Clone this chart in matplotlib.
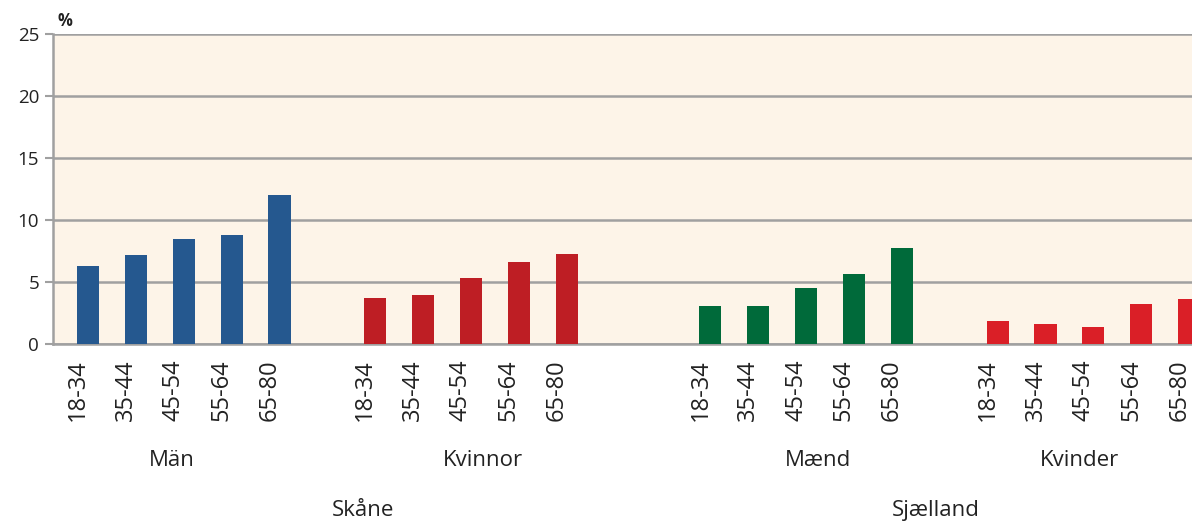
import numpy as np
import matplotlib.pyplot as plt
import matplotlib.transforms as mtransforms

plt.rcParams['font.family'] = ['Open Sans', 'DejaVu Sans']

ages = ['18-34', '35-44', '45-54', '55-64', '65-80']
groups = ['Män', 'Kvinnor', 'Mænd', 'Kvinder']
regions = ['Skåne', 'Sjælland']

man_se = [6.3, 7.2, 8.5, 8.8, 12.0]
kvinnor_se = [3.7, 4.0, 5.3, 6.6, 7.3]
maend_dk = [3.1, 3.05, 4.5, 5.65, 7.75]
kvinder_dk = [1.85, 1.6, 1.35, 3.2, 3.6]

series = [man_se, kvinnor_se, maend_dk, kvinder_dk]
colors = ['#25588F', '#BE1E24', '#006A3A', '#DA1F27']
# slot where each group's first bar sits
starts = [0, 6, 13, 19]

fig = plt.figure(figsize=(11.92, 5.23), dpi=100)
ax = fig.add_axes([0.0445, 0.342, 0.9555, 0.593])
ax.set_facecolor('#FDF4E8')

xs, labels = [], []
for vals, col, s in zip(series, colors, starts):
    x = s + np.arange(len(vals))
    ax.bar(x, vals, width=0.46, color=col, zorder=3)
    xs.extend(x)
    labels.extend(ages)

ax.set_ylim(0, 25)
ax.set_yticks(range(0, 26, 5))
ax.set_xlim(-0.73, 23.06)
ax.set_xticks(xs)
ax.set_xticklabels(labels, rotation=90, fontsize=17, color='#222222')
ax.tick_params(axis='x', length=0, pad=11)
ax.tick_params(axis='y', length=6, width=1.5, color='#A0A0A0', labelsize=13.5,
               labelcolor='#222222', pad=4)
ax.grid(axis='y', color='#A0A0A0', linewidth=1.8, zorder=1)

# age labels sit slightly left of their bars
shift = mtransforms.ScaledTranslation(-10 / 100, 0, fig.dpi_scale_trans)
for lab in ax.get_xticklabels():
    lab.set_transform(lab.get_transform() + shift)

for side in ['top', 'right']:
    ax.spines[side].set_visible(False)
for side in ['left', 'bottom']:
    ax.spines[side].set_color('#A0A0A0')
    ax.spines[side].set_linewidth(1.8)

ax.text(-0.73 + 0.1, 25.35, '%', fontsize=12, fontweight='bold', color='#222222',
        va='bottom', ha='left')

# group and region captions under the tick labels
group_x = [1.75, 8.25, 15.25, 20.7]
for gx, name in zip(group_x, groups):
    ax.annotate(name, (gx, 0.12), xycoords=('data', 'figure fraction'),
                ha='center', va='center', fontsize=16, color='#222222')
region_x = [5.75, 17.7]
for rx, name in zip(region_x, regions):
    ax.annotate(name, (rx, 0.023), xycoords=('data', 'figure fraction'),
                ha='center', va='center', fontsize=16, color='#222222')

fig.savefig('out.png', dpi=100)
